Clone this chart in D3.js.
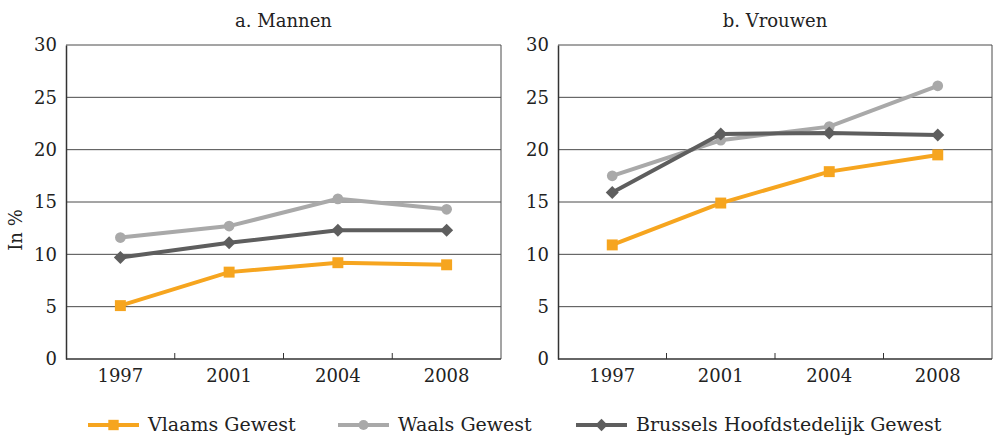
<!DOCTYPE html>
<html>
<head>
<meta charset="utf-8">
<script src="https://cdn.jsdelivr.net/npm/d3@7"></script>
<style>
  body { margin: 0; background: #fff; }
  text { font-family: "DejaVu Serif", serif; fill: #222; }
</style>
</head>
<body>
<svg width="993" height="435"></svg>
<script>
var years = ["1997", "2001", "2004", "2008"];
var yTicks = [0, 5, 10, 15, 20, 25, 30];

var mannenVlaams = [5.1, 8.3, 9.2, 9.0];
var mannenWaals = [11.6, 12.7, 15.3, 14.3];
var mannenBrussel = [9.7, 11.1, 12.3, 12.3];

var vrouwenVlaams = [10.9, 14.9, 17.9, 19.5];
var vrouwenWaals = [17.5, 20.9, 22.2, 26.1];
var vrouwenBrussel = [15.9, 21.5, 21.6, 21.4];

var seriesNames = ["Vlaams Gewest", "Waals Gewest", "Brussels Hoofdstedelijk Gewest"];
var colors = ["#f6a51f", "#a9a9a9", "#5e5e5e"];
// the diamond is a square turned 45 degrees
var shapes = [d3.symbolSquare, d3.symbolCircle, d3.symbolSquare];
var rotations = [0, 0, 45];
var sizes = [120, 90, 85];

var svg = d3.select("svg");

var panels = [
  {title: "a. Mannen", left: 66, right: 501, series: [mannenVlaams, mannenWaals, mannenBrussel]},
  {title: "b. Vrouwen", left: 558, right: 992, series: [vrouwenVlaams, vrouwenWaals, vrouwenBrussel]}
];

var plotTop = 45, plotBottom = 359;

var y = d3.scaleLinear().domain([0, 30]).range([plotBottom, plotTop]);

panels.forEach(function(p) {
  var g = svg.append("g");
  var x = d3.scaleBand().domain(years).range([p.left, p.right]);

  // gridlines
  g.selectAll(".grid")
    .data(yTicks.slice(1))
    .enter().append("line")
      .attr("x1", p.left).attr("x2", p.right)
      .attr("y1", function(d) { return y(d); })
      .attr("y2", function(d) { return y(d); })
      .attr("stroke", "#4a4a4a")
      .attr("stroke-width", 1);

  // box right edge
  g.append("line")
    .attr("x1", p.right).attr("x2", p.right)
    .attr("y1", plotTop).attr("y2", plotBottom)
    .attr("stroke", "#4a4a4a");

  // y axis
  var yAxis = g.append("g")
    .attr("transform", "translate(" + p.left + ",0)")
    .call(d3.axisLeft(y).tickValues(yTicks).tickSize(0).tickPadding(9));
  yAxis.select(".domain").attr("stroke", "#333").attr("stroke-width", 1.5);
  yAxis.selectAll("text")
    .style("font-size", "18px")
    .style("font-family", "DejaVu Serif, serif")
    .attr("fill", "#222");

  // x axis with tick marks between categories, pointing up
  g.append("line")
    .attr("x1", p.left).attr("x2", p.right)
    .attr("y1", plotBottom).attr("y2", plotBottom)
    .attr("stroke", "#333").attr("stroke-width", 1.5);
  g.selectAll(".xtick")
    .data(years.slice(1))
    .enter().append("line")
      .attr("x1", function(d) { return x(d); })
      .attr("x2", function(d) { return x(d); })
      .attr("y1", plotBottom).attr("y2", plotBottom - 6)
      .attr("stroke", "#333");
  g.selectAll(".xlabel")
    .data(years)
    .enter().append("text")
      .attr("x", function(d) { return x(d) + x.bandwidth() / 2; })
      .attr("y", plotBottom + 23)
      .attr("text-anchor", "middle")
      .style("font-size", "18px")
      .text(function(d) { return d; });

  // title
  g.append("text")
    .attr("x", (p.left + p.right) / 2)
    .attr("y", 27)
    .attr("text-anchor", "middle")
    .style("font-size", "18px")
    .text(p.title);

  var line = d3.line()
    .x(function(d, i) { return x(years[i]) + x.bandwidth() / 2; })
    .y(function(d) { return y(d); });

  p.series.forEach(function(values, s) {
    g.append("path")
      .datum(values)
      .attr("fill", "none")
      .attr("stroke", colors[s])
      .attr("stroke-width", 4)
      .attr("d", line);
    g.selectAll(".m" + s)
      .data(values)
      .enter().append("path")
        .attr("transform", function(d, i) {
          return "translate(" + (x(years[i]) + x.bandwidth() / 2) + "," + y(d) + ") rotate(" + rotations[s] + ")";
        })
        .attr("d", d3.symbol().type(shapes[s]).size(sizes[s]))
        .attr("fill", colors[s]);
  });
});

// y label
svg.append("text")
  .attr("transform", "translate(22,230) rotate(-90)")
  .attr("text-anchor", "middle")
  .style("font-size", "18px")
  .text("In %");

// legend
var legendX = [88, 338, 576];
var legend = svg.selectAll(".legend")
  .data(seriesNames)
  .enter().append("g")
    .attr("transform", function(d, i) { return "translate(" + legendX[i] + ",425)"; });
legend.append("line")
  .attr("x1", 0).attr("x2", 51)
  .attr("stroke", function(d, i) { return colors[i]; })
  .attr("stroke-width", 4);
legend.append("path")
  .attr("transform", function(d, i) { return "translate(25.5,0) rotate(" + rotations[i] + ")"; })
  .attr("d", function(d, i) { return d3.symbol().type(shapes[i]).size(sizes[i] * 0.9)(); })
  .attr("fill", function(d, i) { return colors[i]; });
legend.append("text")
  .attr("x", 60)
  .attr("y", 6)
  .style("font-size", "19px")
  .text(function(d) { return d; });
</script>
</body>
</html>
